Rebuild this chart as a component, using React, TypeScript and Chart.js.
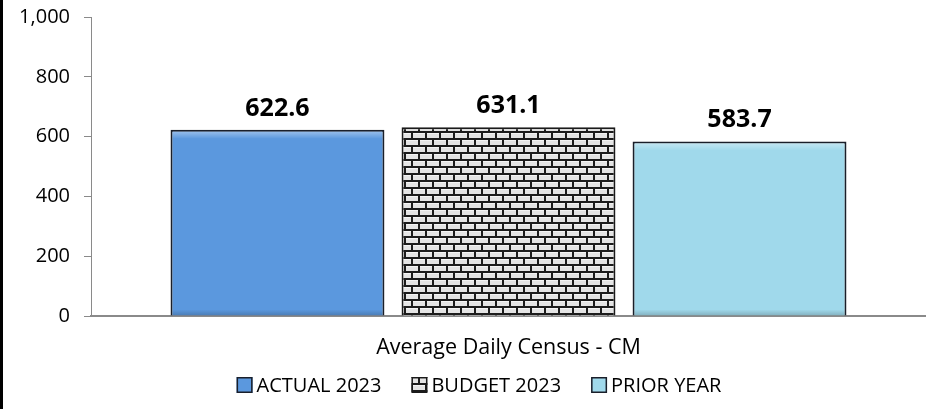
import React, { useEffect, useRef } from 'react';
import { Chart, registerables } from 'chart.js';

Chart.register(...registerables);

const categories = ['Average Daily Census - CM'];
const seriesNames = ['ACTUAL 2023', 'BUDGET 2023', 'PRIOR YEAR'];
const actual2023 = [622.6];
const budget2023 = [631.1];
const priorYear = [583.7];
const yTickValues = [0, 200, 400, 600, 800, 1000];

const FONT = '"Open Sans", sans-serif';

function makeBrickPattern(ctx: CanvasRenderingContext2D): CanvasPattern | string {
  const c = document.createElement('canvas');
  c.width = 14;
  c.height = 14;
  const g = c.getContext('2d');
  if (!g) return '#e6e6e6';
  g.fillStyle = '#1c1c1c';
  g.fillRect(0, 0, 14, 14);
  g.fillStyle = '#e4e4e4';
  g.fillRect(0, 0, 12, 5);
  g.fillRect(0, 7, 5, 5);
  g.fillRect(7, 7, 7, 5);
  g.fillStyle = '#f4f4f4';
  g.fillRect(0, 0, 12, 1);
  g.fillRect(0, 7, 5, 1);
  g.fillRect(7, 7, 7, 1);
  const p = ctx.createPattern(c, 'repeat');
  return p || '#e6e6e6';
}

// soft bevel on the solid bars + value labels above every bar
const valueLabelPlugin = {
  id: 'valueLabels',
  afterDatasetsDraw(chart: any) {
    const ctx = chart.ctx;
    ctx.save();
    chart.data.datasets.forEach((ds: any, i: number) => {
      if (typeof ds.backgroundColor !== 'string') return;
      const meta = chart.getDatasetMeta(i);
      meta.data.forEach((el: any) => {
        const half = el.width / 2;
        const l = el.x - half + 2;
        const r = el.x + half - 2;
        const t = el.y + 2;
        const b = el.base;
        const gTop = ctx.createLinearGradient(0, t, 0, t + 7);
        gTop.addColorStop(0, 'rgba(255,255,255,0.35)');
        gTop.addColorStop(1, 'rgba(255,255,255,0)');
        ctx.fillStyle = gTop;
        ctx.fillRect(l, t, r - l, 7);
        const gBot = ctx.createLinearGradient(0, b - 6, 0, b);
        gBot.addColorStop(0, 'rgba(0,0,0,0)');
        gBot.addColorStop(1, 'rgba(0,0,0,0.18)');
        ctx.fillStyle = gBot;
        ctx.fillRect(l, b - 6, r - l, 6);
      });
    });
    ctx.font = `bold 25px ${FONT}`;
    ctx.fillStyle = '#000';
    ctx.textAlign = 'center';
    ctx.textBaseline = 'alphabetic';
    chart.data.datasets.forEach((ds: any, i: number) => {
      const meta = chart.getDatasetMeta(i);
      meta.data.forEach((el: any, j: number) => {
        const v = ds.data[j];
        ctx.fillText(Number(v).toFixed(1), el.x, el.y - 14);
      });
    });
    ctx.restore();
  },
};

// legend drawn by hand so the box/text spacing matches the original
const customLegendPlugin = {
  id: 'customLegend',
  afterDraw(chart: any) {
    const ctx = chart.ctx;
    const box = 16;
    const textGap = 4;
    const itemGap = 30;
    ctx.save();
    ctx.font = `20px ${FONT}`;
    const items = chart.data.datasets.map((ds: any) => ({
      label: ds.label as string,
      fill: ds.backgroundColor,
      stroke: ds.borderColor,
      w: box + textGap + ctx.measureText(ds.label).width,
    }));
    const total =
      items.reduce((s: number, it: any) => s + it.w, 0) + itemGap * (items.length - 1);
    const cx = (chart.width + 32) / 2;
    const cy = chart.height - 24;
    let x = cx - total / 2;
    ctx.textBaseline = 'middle';
    ctx.textAlign = 'left';
    items.forEach((it: any) => {
      ctx.fillStyle = it.fill;
      ctx.fillRect(x, cy - box / 2, box, box);
      ctx.lineWidth = 1.5;
      ctx.strokeStyle = it.stroke;
      ctx.strokeRect(x + 0.75, cy - box / 2 + 0.75, box - 1.5, box - 1.5);
      ctx.fillStyle = '#000';
      ctx.fillText(it.label, x + box + textGap, cy + 1);
      x += it.w + itemGap;
    });
    ctx.restore();
  },
};

export default function App() {
  const ref = useRef<HTMLCanvasElement>(null);

  useEffect(() => {
    const canvas = ref.current;
    if (!canvas) return;
    const ctx = canvas.getContext('2d')!;
    const brick = makeBrickPattern(ctx);

    const chart = new Chart(canvas, {
      type: 'bar',
      data: {
        labels: categories,
        datasets: [
          {
            label: seriesNames[0],
            data: actual2023,
            backgroundColor: '#5b98de',
            borderColor: '#1a1f2a',
            borderWidth: 2,
          },
          {
            label: seriesNames[1],
            data: budget2023,
            backgroundColor: brick as any,
            borderColor: '#1a1a1a',
            borderWidth: 2,
          },
          {
            label: seriesNames[2],
            data: priorYear,
            backgroundColor: '#a0d9eb',
            borderColor: '#1a1f2a',
            borderWidth: 2,
          },
        ],
      },
      options: {
        responsive: false,
        animation: false,
        layout: { padding: { left: 0, top: 17, right: 0, bottom: 47 } },
        datasets: {
          bar: { categoryPercentage: 0.83, barPercentage: 0.926 },
        },
        plugins: {
          legend: { display: false },
          tooltip: { enabled: false },
        },
        scales: {
          x: {
            grid: { display: false, drawTicks: false },
            border: { color: '#8a8a8a', width: 2 },
            ticks: {
              font: { family: FONT, size: 21.5 },
              color: '#000',
              padding: 19,
            },
            afterFit: (s: any) => {
              s.height = 46;
              s.paddingLeft = 0;
              s.paddingRight = 0;
            },
          },
          y: {
            min: 0,
            max: 1000,
            afterBuildTicks: (s: any) => {
              s.ticks = yTickValues.map((v) => ({ value: v }));
            },
            grid: {
              drawOnChartArea: false,
              drawTicks: true,
              tickLength: 7,
              color: '#8a8a8a',
            },
            border: { color: '#8a8a8a', width: 1 },
            ticks: {
              font: { family: FONT, size: 20 },
              color: '#000',
              padding: 14,
              callback: (v: any) => Number(v).toLocaleString('en-US'),
            },
            afterFit: (s: any) => {
              s.width = 91;
              s.paddingTop = 0;
              s.paddingBottom = 0;
            },
          },
        },
      },
      plugins: [valueLabelPlugin, customLegendPlugin],
    });
    return () => chart.destroy();
  }, []);

  return (
    <div style={{ position: 'absolute', left: 0, top: 0, width: 926, height: 409, background: '#fff' }}>
      <canvas ref={ref} width={926} height={409} style={{ width: 926, height: 409, display: 'block' }} />
      <div style={{ position: 'absolute', left: 0, top: 0, width: 3, height: 409, background: '#000' }} />
    </div>
  );
}
